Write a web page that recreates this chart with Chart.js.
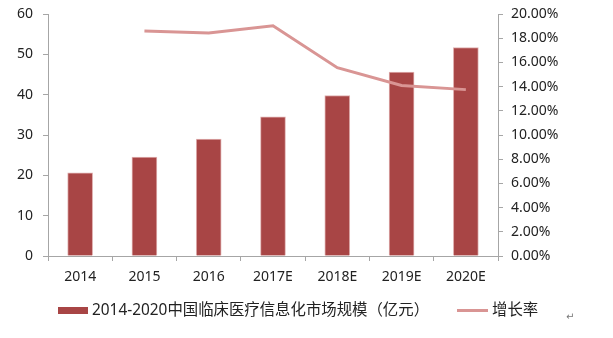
<!DOCTYPE html>
<html>
<head>
<meta charset="utf-8">
<script src="https://cdn.jsdelivr.net/npm/chart.js@4.4.1/dist/chart.umd.min.js"></script>
<style>
  html, body { margin: 0; padding: 0; background: #fff; }
  #wrap { position: relative; width: 613px; height: 338px; }
  #legenda {
    position: absolute; left: 58px; top: 299px; display: flex; align-items: center;
    font: 15.4px "Noto Sans", "Noto Sans CJK SC", sans-serif; color: #222; line-height: 22px;
  }
  #legenda .item { display: flex; align-items: center; margin-right: 28px; }
  #legenda .caixa { width: 30px; height: 7px; margin-right: 4px; }
  #legenda .traco { width: 31px; height: 3px; margin-right: 4px; }
  #mark { position: absolute; left: 566px; top: 311px; font: 10px "DejaVu Sans"; color: #777; }
</style>
</head>
<body>
<div id="wrap">
  <canvas id="chart" width="613" height="338"></canvas>
  <div id="legenda"></div>
  <span id="mark">↵</span>
</div>
<script>
const anos = ["2014", "2015", "2016", "2017E", "2018E", "2019E", "2020E"];
const mercado = [20.6, 24.5, 29.0, 34.5, 39.8, 45.6, 51.7];
const crescimento = [null, 18.6, 18.43, 19.03, 15.56, 14.1, 13.75];
const ticksEsq = [0, 10, 20, 30, 40, 50, 60];
const ticksDir = [0, 2, 4, 6, 8, 10, 12, 14, 16, 18, 20];

const fonte = "'Noto Sans', 'Noto Sans CJK SC', sans-serif";
const corEixo = "#a6a6a6";
const corBarra = "#a84545";
const corLinha = "#d99594";

// eixo y: sem folga extra em cima/embaixo para o topo ficar no padding
function semFolga(s) {
  s.paddingTop = 0;
  s.paddingBottom = 0;
}

const ctx = document.getElementById("chart").getContext("2d");
const grafico = new Chart(ctx, {
  type: "bar",
  data: {
    labels: anos,
    datasets: [
      {
        type: "bar",
        label: "2014-2020中国临床医疗信息化市场规模（亿元）",
        data: mercado,
        backgroundColor: corBarra,
        borderColor: "#e0b0b0",
        borderWidth: 1,
        barThickness: 25,
        yAxisID: "y",
        order: 2,
      },
      {
        type: "line",
        label: "增长率",
        data: crescimento,
        borderColor: corLinha,
        borderWidth: 3,
        pointRadius: 0,
        tension: 0,
        fill: false,
        yAxisID: "y2",
        order: 1,
      },
    ],
  },
  options: {
    responsive: false,
    animation: false,
    layout: { padding: { top: 14, bottom: 48 } },
    plugins: {
      tooltip: { enabled: false },
      legend: { display: false },
    },
    scales: {
      x: {
        grid: { drawOnChartArea: false, color: corEixo, tickLength: 5 },
        border: { color: corEixo },
        ticks: { color: "#222", font: { family: fonte, size: 14 }, padding: 8 },
        afterFit: (s) => { s.height = 34; },
      },
      y: {
        position: "left",
        min: 0,
        max: 60,
        afterBuildTicks: (s) => { s.ticks = ticksEsq.map((v) => ({ value: v })); },
        grid: { drawOnChartArea: false, color: corEixo, tickLength: 5 },
        border: { color: corEixo },
        ticks: { color: "#222", font: { family: fonte, size: 14 }, padding: 10 },
        afterFit: (s) => { s.width = 48; semFolga(s); },
      },
      y2: {
        position: "right",
        min: 0,
        max: 20,
        afterBuildTicks: (s) => { s.ticks = ticksDir.map((v) => ({ value: v })); },
        grid: { drawOnChartArea: false, color: corEixo, tickLength: 5 },
        border: { color: corEixo },
        ticks: {
          color: "#222",
          font: { family: fonte, size: 14 },
          padding: 8,
          callback: (v) => v.toFixed(2) + "%",
        },
        afterFit: (s) => { s.width = 115; semFolga(s); },
      },
    },
  },
});

// legenda em HTML montada a partir dos datasets
const legenda = document.getElementById("legenda");
grafico.data.datasets.forEach((ds) => {
  const item = document.createElement("span");
  item.className = "item";
  const marca = document.createElement("span");
  marca.className = ds.type === "bar" ? "caixa" : "traco";
  marca.style.background = ds.type === "bar" ? ds.backgroundColor : ds.borderColor;
  const texto = document.createElement("span");
  texto.textContent = ds.label;
  item.appendChild(marca);
  item.appendChild(texto);
  legenda.appendChild(item);
});
</script>
</body>
</html>
